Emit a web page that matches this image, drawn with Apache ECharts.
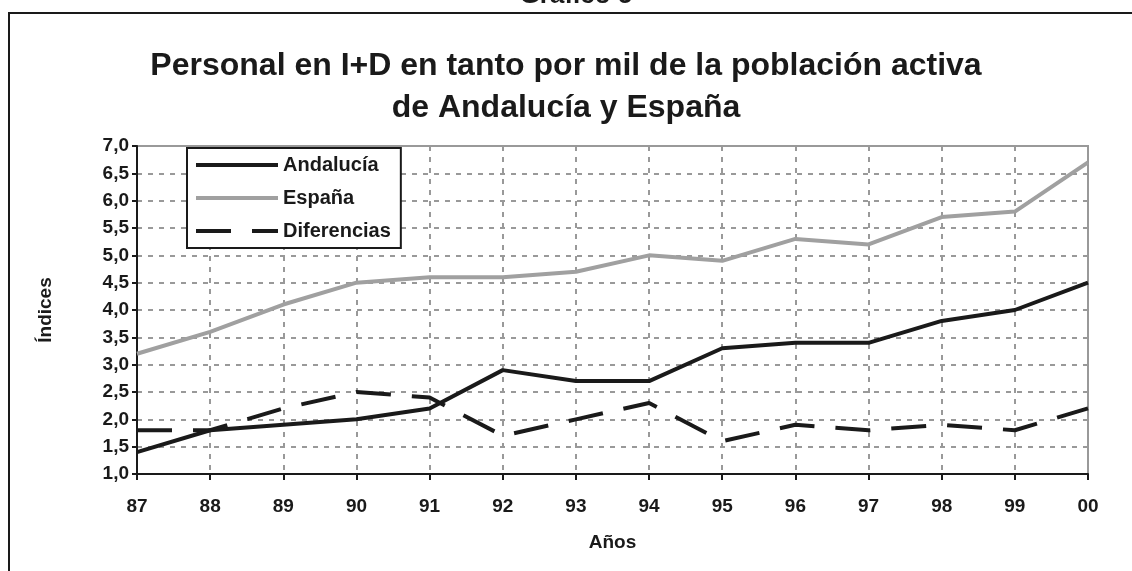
<!DOCTYPE html>
<html><head><meta charset="utf-8">
<script src="https://cdn.jsdelivr.net/npm/echarts@6/dist/echarts.min.js"></script>
<style>html,body{margin:0;padding:0;background:#fff}#c{width:1132px;height:571px}</style>
</head><body><div id="c"></div>
<script>
const years = ['87','88','89','90','91','92','93','94','95','96','97','98','99','00'];
const andalucia = [1.4,1.8,1.9,2.0,2.2,2.9,2.7,2.7,3.3,3.4,3.4,3.8,4.0,4.5];
const espana = [3.2,3.6,4.1,4.5,4.6,4.6,4.7,5.0,4.9,5.3,5.2,5.7,5.8,6.7];
const diferencias = [1.8,1.8,2.2,2.5,2.4,1.7,2.0,2.3,1.6,1.9,1.8,1.9,1.8,2.2];
const FONT = '"Liberation Sans", Arial, sans-serif';
const chart = echarts.init(document.getElementById('c'), null, {renderer:'canvas'});
chart.setOption({
  animation:false,
  backgroundColor:'#fff',
  title:{
    text:'Personal en I+D en tanto por mil de la población activa\nde Andalucía y España',
    left:'center', top:40,
    textStyle:{fontFamily:FONT,fontWeight:'bold',fontSize:32,color:'#1a1a1a',lineHeight:42}
  },
  graphic:[
    {type:'rect',shape:{x:9,y:13,width:1200,height:700},style:{fill:null,stroke:'#1a1a1a',lineWidth:2},z:-1},
    {type:'text',x:576,y:9,style:{text:'Gráfico 5',font:'bold 26px "Liberation Sans", Arial',fill:'#1a1a1a',align:'center',verticalAlign:'bottom'}}
  ],
  legend:{
    orient:'vertical', left:187, top:148,
    backgroundColor:'#fff', borderColor:'#1a1a1a', borderWidth:2,
    padding:[7,10,7,7], itemGap:13, itemWidth:82, itemHeight:16,
    itemStyle:{opacity:0},
    lineStyle:{width:4},
    textStyle:{fontFamily:FONT,fontWeight:'bold',fontSize:20,color:'#1a1a1a'},
    data:['Andalucía','España','Diferencias']
  },
  grid:{left:137,right:44,top:146,bottom:97,show:true,borderColor:'#999',borderWidth:2,backgroundColor:'transparent'},
  xAxis:{
    type:'category', data:years, boundaryGap:false,
    name:'Años', nameLocation:'middle', nameGap:59,
    nameTextStyle:{fontFamily:FONT,fontWeight:'bold',fontSize:19,color:'#1a1a1a'},
    axisLine:{lineStyle:{color:'#1a1a1a',width:2}},
    axisTick:{show:true,length:6,lineStyle:{color:'#1a1a1a',width:2}},
    axisLabel:{fontFamily:FONT,fontWeight:'bold',fontSize:19,color:'#1a1a1a',margin:23},
    splitLine:{show:true,lineStyle:{color:'#999',width:2,type:[5,6]}}
  },
  yAxis:{
    type:'value', min:1, max:7, interval:0.5,
    name:'Índices', nameLocation:'middle', nameGap:82, nameRotate:90,
    nameTextStyle:{fontFamily:FONT,fontWeight:'bold',fontSize:19,color:'#1a1a1a'},
    axisLine:{show:true,lineStyle:{color:'#1a1a1a',width:2}},
    axisTick:{show:true,length:5,lineStyle:{color:'#1a1a1a',width:2}},
    axisLabel:{fontFamily:FONT,fontWeight:'bold',fontSize:19,color:'#1a1a1a',margin:8,
      formatter:v=>v.toFixed(1).replace('.',',')},
    splitLine:{show:true,lineStyle:{color:'#999',width:2,type:[5,6]}}
  },
  series:[
    {name:'Andalucía',type:'line',data:andalucia,symbol:'none',color:'#1a1a1a',
     lineStyle:{color:'#1a1a1a',width:4},z:4},
    {name:'España',type:'line',data:espana,symbol:'none',color:'#a0a0a0',
     lineStyle:{color:'#a0a0a0',width:4},z:3},
    {name:'Diferencias',type:'line',data:diferencias,symbol:'none',color:'#1a1a1a',
     lineStyle:{color:'#1a1a1a',width:4,type:[35,21]},z:5}
  ]
});
</script></body></html>
